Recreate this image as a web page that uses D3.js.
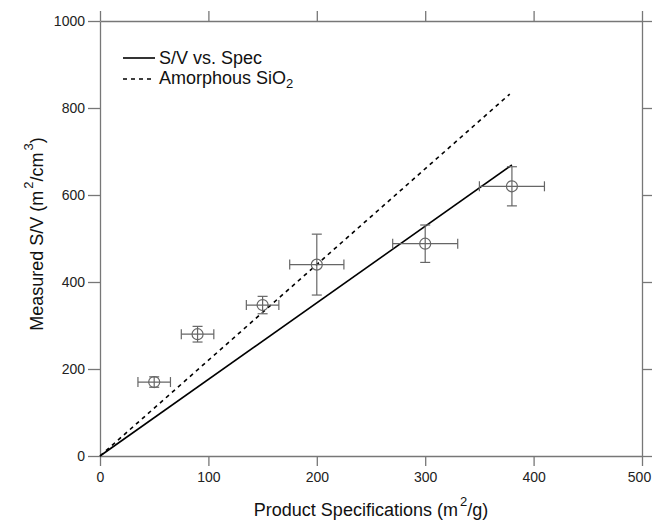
<!DOCTYPE html>
<html>
<head>
<meta charset="utf-8">
<script src="https://cdn.jsdelivr.net/npm/d3@7"></script>
<style>
  body { margin: 0; background: #fff; }
  text { font-family: "Liberation Sans", Arial, sans-serif; }
</style>
</head>
<body>
<div class="chart"></div>
<script>
// measured points
const spec = [50, 90, 150, 200, 300, 380]
const measured = [170, 280, 347, 440, 488, 620]
const specErr = [15, 15, 15, 25, 30, 30]
const measErr = [12, 18, 20, 70, 43, 45]

// fitted lines (slope through origin)
const fitX = [0, 380]
const fitY = [0, 669]
const silicaX = [0, 378]
const silicaY = [0, 832]

const xTicks = [0, 100, 200, 300, 400, 500]
const yTicks = [0, 200, 400, 600, 800, 1000]

const W = 652, H = 520
const margin = {top: 21, right: 10, bottom: 64, left: 100}
const width = 642 - margin.left, height = 456 - margin.top

const svg = d3.select(".chart").append("svg")
    .attr("width", W).attr("height", H)
const g = svg.append("g")
    .attr("transform", "translate(" + margin.left + "," + margin.top + ")")

const x = d3.scaleLinear().domain([0, 500]).range([0, width])
const y = d3.scaleLinear().domain([0, 1000]).range([height, 0])

const axisColor = "#777"
const fmt = d3.format("d")

function styleAxis(sel, showLabels) {
    sel.select(".domain").attr("stroke", axisColor).attr("stroke-width", 1.3)
    sel.selectAll(".tick line").attr("stroke", axisColor).attr("stroke-width", 1.3)
    sel.selectAll(".tick text")
        .attr("fill", "#222")
        .style("font-size", "14px")
        .style("display", showLabels ? null : "none")
}

const xAxisG = g.append("g").attr("transform", "translate(0," + height + ")")
    .call(d3.axisBottom(x).tickValues(xTicks).tickFormat(fmt).tickSize(10).tickSizeOuter(0).tickPadding(6))
    .call(s => styleAxis(s, true))
// last label sits at the page edge, nudge it in a little
xAxisG.selectAll(".tick text").filter(d => d === 500).attr("dx", -3)

g.append("g")
    .call(d3.axisTop(x).tickValues(xTicks).tickFormat(fmt).tickSize(10).tickSizeOuter(0))
    .call(s => styleAxis(s, false))
g.append("g")
    .call(d3.axisLeft(y).tickValues(yTicks).tickFormat(fmt).tickSize(12).tickSizeOuter(0).tickPadding(3))
    .call(s => styleAxis(s, true))
g.append("g").attr("transform", "translate(" + width + ",0)")
    .call(d3.axisRight(y).tickValues(yTicks).tickFormat(fmt).tickSize(10).tickSizeOuter(0))
    .call(s => styleAxis(s, false))

// lines
const line = d3.line().x(d => x(d[0])).y(d => y(d[1]))
g.append("path")
    .datum(d3.zip(fitX, fitY))
    .attr("d", line).attr("fill", "none")
    .attr("stroke", "#000").attr("stroke-width", 1.6)
g.append("path")
    .datum(d3.zip(silicaX, silicaY))
    .attr("d", line).attr("fill", "none")
    .attr("stroke", "#000").attr("stroke-width", 1.6)
    .attr("stroke-dasharray", "4,4")

// error bars
const pts = spec.map((s, i) => ({x: s, y: measured[i], ex: specErr[i], ey: measErr[i]}))
const errColor = "#666", cap = 5
const eb = g.selectAll(".pt").data(pts).enter().append("g")
    .attr("stroke", errColor).attr("stroke-width", 1.2).attr("fill", "none")
eb.append("line")
    .attr("x1", d => x(d.x - d.ex)).attr("x2", d => x(d.x + d.ex))
    .attr("y1", d => y(d.y)).attr("y2", d => y(d.y))
eb.append("line")
    .attr("x1", d => x(d.x)).attr("x2", d => x(d.x))
    .attr("y1", d => y(d.y - d.ey)).attr("y2", d => y(d.y + d.ey))
eb.append("line")
    .attr("x1", d => x(d.x - d.ex)).attr("x2", d => x(d.x - d.ex))
    .attr("y1", d => y(d.y) - cap).attr("y2", d => y(d.y) + cap)
eb.append("line")
    .attr("x1", d => x(d.x + d.ex)).attr("x2", d => x(d.x + d.ex))
    .attr("y1", d => y(d.y) - cap).attr("y2", d => y(d.y) + cap)
eb.append("line")
    .attr("x1", d => x(d.x) - cap).attr("x2", d => x(d.x) + cap)
    .attr("y1", d => y(d.y - d.ey)).attr("y2", d => y(d.y - d.ey))
eb.append("line")
    .attr("x1", d => x(d.x) - cap).attr("x2", d => x(d.x) + cap)
    .attr("y1", d => y(d.y + d.ey)).attr("y2", d => y(d.y + d.ey))
eb.append("circle")
    .attr("cx", d => x(d.x)).attr("cy", d => y(d.y)).attr("r", 5.5)

// legend
const leg = svg.append("g").attr("transform", "translate(123,58)")
leg.append("line").attr("x1", 0).attr("x2", 32).attr("y1", 0).attr("y2", 0)
    .attr("stroke", "#000").attr("stroke-width", 1.6)
leg.append("line").attr("x1", 0).attr("x2", 32).attr("y1", 21).attr("y2", 21)
    .attr("stroke", "#000").attr("stroke-width", 1.6).attr("stroke-dasharray", "4,4")
leg.append("text").attr("x", 36).attr("y", 6).style("font-size", "18px").attr("fill", "#111")
    .text("S/V vs. Spec")
const t2 = leg.append("text").attr("x", 36).attr("y", 26).style("font-size", "18px").attr("fill", "#111")
t2.append("tspan").text("Amorphous SiO")
t2.append("tspan").attr("dy", 4).style("font-size", "13px").text("2")

// axis titles
const xt = svg.append("text").attr("x", 371).attr("y", 516)
    .attr("text-anchor", "middle").style("font-size", "18px").attr("fill", "#111")
xt.append("tspan").text("Product Specifications (m")
xt.append("tspan").attr("dx", 2).attr("dy", -10).style("font-size", "13px").text("2")
xt.append("tspan").attr("dy", 10).text("/g)")

const yt = svg.append("text")
    .attr("transform", "translate(43,234) rotate(-90)")
    .attr("text-anchor", "middle").style("font-size", "18px").attr("fill", "#111")
yt.append("tspan").text("Measured S/V (m")
yt.append("tspan").attr("dx", 2).attr("dy", -10).style("font-size", "13px").text("2")
yt.append("tspan").attr("dy", 10).text("/cm")
yt.append("tspan").attr("dx", 2).attr("dy", -10).style("font-size", "13px").text("3")
yt.append("tspan").attr("dy", 10).text(")")
</script>
</body>
</html>
